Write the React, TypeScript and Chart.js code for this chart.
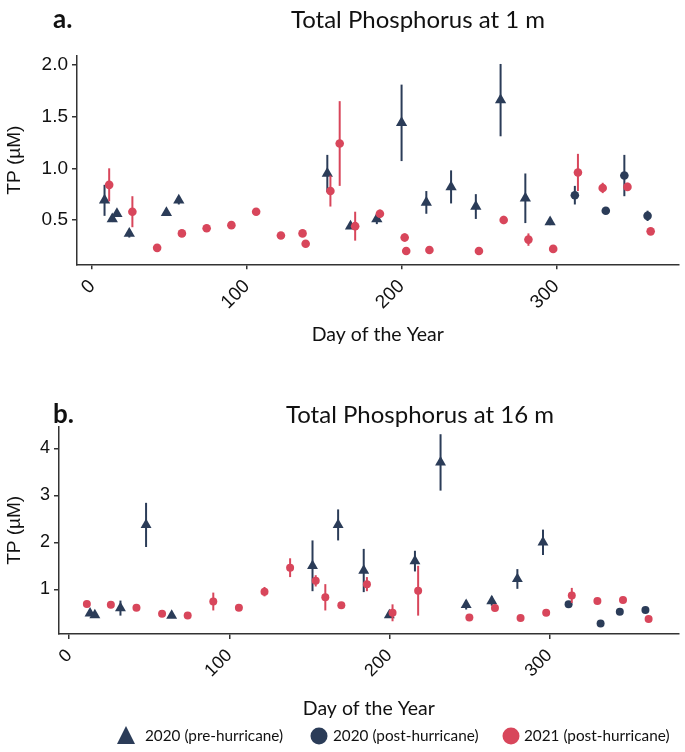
import React, { useEffect, useRef } from "react";
import { Chart, registerables } from "chart.js";

Chart.register(...registerables);

const NAVY = "#2b3c58";
const RED = "#d8465b";

// ---------- Panel a: Total Phosphorus at 1 m ----------
const aPreDay = [8, 13, 16, 24, 48, 56, 152, 167, 184, 200, 216, 232, 248, 264, 280, 296];
const aPreTP = [0.69, 0.51, 0.56, 0.37, 0.57, 0.69, 0.95, 0.44, 0.51, 1.44, 0.67, 0.82, 0.63, 1.66, 0.71, 0.48];
const aPreErr = [0.15, 0.03, 0.03, 0.04, 0.02, 0.04, 0.18, 0.02, 0.05, 0.37, 0.11, 0.16, 0.12, 0.35, 0.24, 0.03];

const aPostDay = [312, 332, 344, 359];
const aPostTP = [0.74, 0.59, 0.93, 0.54];
const aPostErr = [0.09, 0.03, 0.2, 0.05];

const a21Day = [11, 26, 42, 58, 74, 90, 106, 122, 136, 138, 154, 160, 170, 186, 202, 203, 218, 250, 266, 282, 298, 314, 330, 346, 361];
const a21TP = [0.84, 0.58, 0.23, 0.37, 0.42, 0.45, 0.58, 0.35, 0.37, 0.27, 0.78, 1.24, 0.44, 0.56, 0.33, 0.2, 0.21, 0.2, 0.5, 0.31, 0.22, 0.96, 0.81, 0.82, 0.39];
const a21Err = [0.16, 0.15, 0.01, 0.02, 0.03, 0.02, 0.03, 0.01, 0.03, 0.02, 0.15, 0.41, 0.14, 0.04, 0.04, 0.01, 0.01, 0.01, 0.04, 0.06, 0.01, 0.18, 0.05, 0.04, 0.02];

// ---------- Panel b: Total Phosphorus at 16 m ----------
const bPreDay = [13, 16, 32, 48, 64, 152, 168, 184, 200, 216, 232, 248, 264, 280, 296];
const bPreTP = [0.49, 0.45, 0.6, 2.37, 0.44, 1.5, 2.37, 1.4, 0.45, 1.6, 3.7, 0.67, 0.75, 1.22, 2.0];
const bPreErr = [0.03, 0.03, 0.16, 0.47, 0.02, 0.54, 0.33, 0.46, 0.03, 0.22, 0.6, 0.1, 0.1, 0.21, 0.27];

const bPostDay = [312, 332, 344, 360];
const bPostTP = [0.68, 0.27, 0.52, 0.56];
const bPostErr = [0.02, 0.02, 0.02, 0.02];

const b21Day = [11, 26, 42, 58, 74, 90, 106, 122, 138, 154, 160, 170, 186, 202, 218, 250, 266, 282, 298, 314, 330, 346, 362];
const b21TP = [0.69, 0.67, 0.61, 0.48, 0.44, 0.74, 0.61, 0.95, 1.46, 1.18, 0.83, 0.66, 1.11, 0.5, 0.97, 0.4, 0.6, 0.39, 0.5, 0.87, 0.75, 0.77, 0.37];
const b21Err = [0.03, 0.07, 0.03, 0.03, 0.03, 0.19, 0.03, 0.1, 0.2, 0.12, 0.28, 0.05, 0.15, 0.18, 0.53, 0.02, 0.05, 0.02, 0.03, 0.16, 0.02, 0.03, 0.03];

const seriesLabels = ["2020 (pre-hurricane)", "2020 (post-hurricane)", "2021 (post-hurricane)"];
const xTickStep = 100;

const TICK_FONT = "Liberation Sans";
const TEXT_FONT = "Lato";

const zip = (xs: number[], ys: number[]) => xs.map((x, i) => ({ x, y: ys[i] }));

const errorBarPlugin = {
  id: "errorBars",
  beforeDatasetDraw(chart: any, args: any) {
    const ds = chart.data.datasets[args.index];
    const errs: number[] | undefined = ds.errors;
    if (!errs) return;
    const xs = chart.scales.x;
    const ys = chart.scales.y;
    const ctx = chart.ctx;
    ctx.save();
    ctx.strokeStyle = ds.backgroundColor;
    ctx.lineWidth = 2;
    ds.data.forEach((p: any, i: number) => {
      const e = errs[i];
      if (!e) return;
      const px = xs.getPixelForValue(p.x);
      ctx.beginPath();
      ctx.moveTo(px, ys.getPixelForValue(p.y - e));
      ctx.lineTo(px, ys.getPixelForValue(p.y + e));
      ctx.stroke();
    });
    ctx.restore();
  },
};

type TextItem = { text: string; x: number; y: number; font: string; align?: CanvasTextAlign };

function textPlugin(items: TextItem[]) {
  return {
    id: "texts",
    afterDraw(chart: any) {
      const ctx = chart.ctx;
      items.forEach((t) => {
        ctx.save();
        ctx.font = t.font;
        ctx.fillStyle = "#111";
        ctx.textAlign = t.align || "left";
        ctx.textBaseline = "middle";
        ctx.fillText(t.text, t.x, t.y);
        ctx.restore();
      });
    },
  };
}

const legendPlugin = {
  id: "customLegend",
  afterDraw(chart: any) {
    const ctx = chart.ctx;
    const y = 361;
    const items = [
      { shape: "triangle", color: NAVY, mx: 126, tx: 145 },
      { shape: "circle", color: NAVY, mx: 319, tx: 333 },
      { shape: "circle", color: RED, mx: 511, tx: 524 },
    ];
    items.forEach((it, i) => {
      ctx.save();
      ctx.fillStyle = it.color;
      ctx.beginPath();
      if (it.shape === "triangle") {
        ctx.moveTo(it.mx, y - 10);
        ctx.lineTo(it.mx + 9, y + 8);
        ctx.lineTo(it.mx - 9, y + 8);
        ctx.closePath();
      } else {
        ctx.arc(it.mx, y, 8.5, 0, Math.PI * 2);
      }
      ctx.fill();
      ctx.font = `15.3px ${TEXT_FONT}`;
      ctx.fillStyle = "#111";
      ctx.textAlign = "left";
      ctx.textBaseline = "middle";
      ctx.fillText(seriesLabels[i], it.tx, y);
      ctx.restore();
    });
  },
};

function makeDatasets(
  pre: [number[], number[], number[]],
  post: [number[], number[], number[]],
  y21: [number[], number[], number[]],
  triR: number,
  cirR: number
) {
  return [
    {
      label: seriesLabels[2],
      data: zip(y21[0], y21[1]),
      errors: y21[2],
      backgroundColor: RED,
      borderColor: RED,
      pointStyle: "circle",
      pointRadius: cirR,
      pointBorderWidth: 0,
      order: 0,
    },
    {
      label: seriesLabels[1],
      data: zip(post[0], post[1]),
      errors: post[2],
      backgroundColor: NAVY,
      borderColor: NAVY,
      pointStyle: "circle",
      pointRadius: cirR,
      pointBorderWidth: 0,
      order: 1,
    },
    {
      label: seriesLabels[0],
      data: zip(pre[0], pre[1]),
      errors: pre[2],
      backgroundColor: NAVY,
      borderColor: NAVY,
      pointStyle: "triangle",
      pointRadius: triR,
      pointBorderWidth: 0,
      order: 2,
    },
  ];
}

function axisOptions(opts: {
  xmin: number; xmax: number; ymin: number; ymax: number; ystep: number; yWidth: number;
  xHeight: number; xTitlePad: number; tickSize: number; yDigits: number;
}) {
  const axisColor = "#333";
  return {
    x: {
      type: "linear",
      min: opts.xmin,
      max: opts.xmax,
      ticks: {
        stepSize: xTickStep,
        includeBounds: false,
        autoSkip: false,
        minRotation: 45,
        maxRotation: 45,
        padding: 6,
        color: "#111",
        font: { family: TICK_FONT, size: opts.tickSize },
      },
      grid: { drawOnChartArea: false, drawTicks: true, tickLength: 5, color: axisColor, lineWidth: 1.5 },
      border: { display: true, color: axisColor, width: 1.5 },
      title: {
        display: true,
        text: "Day of the Year",
        color: "#111",
        font: { family: TEXT_FONT, size: 19.5 },
        padding: { top: 0, bottom: opts.xTitlePad },
      },
      afterFit: (s: any) => { s.height = opts.xHeight; },
    },
    y: {
      type: "linear",
      min: opts.ymin,
      max: opts.ymax,
      ticks: {
        stepSize: opts.ystep,
        includeBounds: false,
        padding: 4,
        color: "#111",
        font: { family: TICK_FONT, size: opts.tickSize },
        callback: (v: number) => v.toFixed(opts.yDigits),
      },
      grid: { drawOnChartArea: false, drawTicks: true, tickLength: 5, color: axisColor, lineWidth: 1.5 },
      border: { display: true, color: axisColor, width: 1.5 },
      title: {
        display: true,
        text: "TP (µM)",
        color: "#111",
        font: { family: TICK_FONT, size: 19 },
        padding: { top: 3.6, bottom: 0 },
      },
      afterFit: (s: any) => { s.width = opts.yWidth; },
    },
  };
}

function PanelA() {
  const ref = useRef<HTMLCanvasElement>(null);
  useEffect(() => {
    const chart = new Chart(ref.current as HTMLCanvasElement, {
      type: "scatter",
      data: {
        datasets: makeDatasets([aPreDay, aPreTP, aPreErr], [aPostDay, aPostTP, aPostErr], [a21Day, a21TP, a21Err], 6.5, 4.3) as any,
      },
      options: {
        animation: false,
        responsive: false,
        devicePixelRatio: 1,
        events: [],
        layout: { padding: { top: 56, left: 0, right: 0, bottom: 25.7 } },
        plugins: { legend: { display: false }, tooltip: { enabled: false }, title: { display: false } },
        scales: axisOptions({
          xmin: -9.8, xmax: 379, ymin: 0.071, ymax: 2.087, ystep: 0.5, yWidth: 77,
          xHeight: 85, xTitlePad: 3, tickSize: 19, yDigits: 1,
        }) as any,
      },
      plugins: [
        errorBarPlugin,
        textPlugin([
          { text: "a.", x: 53, y: 20, font: `bold 26px ${TEXT_FONT}` },
          { text: "Total Phosphorus at 1 m", x: 418, y: 20, font: `24px ${TEXT_FONT}`, align: "center" },
        ]),
      ],
    } as any);
    return () => chart.destroy();
  }, []);
  return <canvas ref={ref} width={685} height={375} style={{ position: "absolute", left: 0, top: 0, width: 685, height: 375 }} />;
}

function PanelB() {
  const ref = useRef<HTMLCanvasElement>(null);
  useEffect(() => {
    const chart = new Chart(ref.current as HTMLCanvasElement, {
      type: "scatter",
      data: {
        datasets: makeDatasets([bPreDay, bPreTP, bPreErr], [bPostDay, bPostTP, bPostErr], [b21Day, b21TP, b21Err], 6.3, 4.0) as any,
      },
      options: {
        animation: false,
        responsive: false,
        devicePixelRatio: 1,
        events: [],
        layout: { padding: { top: 51.7, left: 0, right: 0, bottom: 28 } },
        plugins: { legend: { display: false }, tooltip: { enabled: false }, title: { display: false } },
        scales: axisOptions({
          xmin: -6.4, xmax: 380.8, ymin: 0.049, ymax: 4.46, ystep: 1, yWidth: 59,
          xHeight: 90, xTitlePad: 4, tickSize: 18, yDigits: 0,
        }) as any,
      },
      plugins: [
        errorBarPlugin,
        textPlugin([
          { text: "b.", x: 53, y: 40, font: `bold 26px ${TEXT_FONT}` },
          { text: "Total Phosphorus at 16 m", x: 420, y: 40, font: `24px ${TEXT_FONT}`, align: "center" },
        ]),
        legendPlugin,
      ],
    } as any);
    return () => chart.destroy();
  }, []);
  return <canvas ref={ref} width={685} height={377} style={{ position: "absolute", left: 0, top: 375, width: 685, height: 377 }} />;
}

export default function App() {
  return (
    <div style={{ position: "absolute", left: 0, top: 0, width: 685, height: 752, background: "#fff", overflow: "hidden" }}>
      <PanelA />
      <PanelB />
    </div>
  );
}
